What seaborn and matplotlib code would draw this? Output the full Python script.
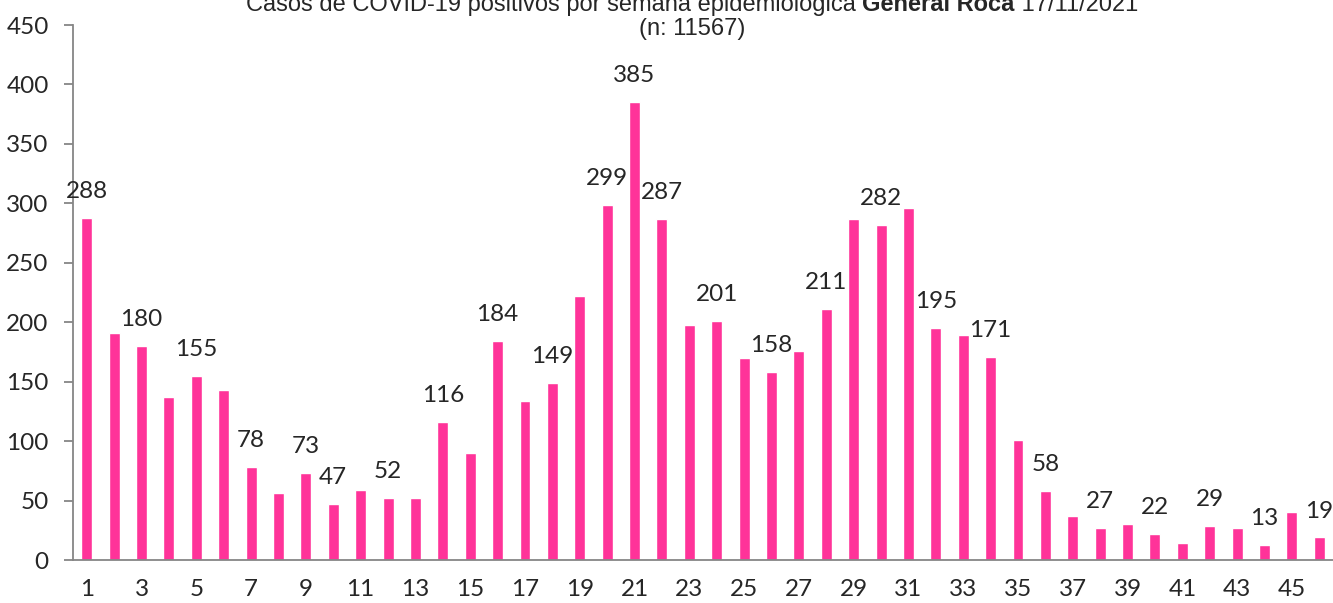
import numpy as np
import pandas as pd
import matplotlib
matplotlib.use("Agg")
import matplotlib.pyplot as plt
import seaborn as sns

# =====================================================================
# DATA - casos por semana epidemiologica
# =====================================================================
weeks = list(range(1, 47))
cases = [288, 191, 180, 137, 155, 143, 78, 56, 73, 47,
         59, 52, 52, 116, 90, 184, 134, 149, 222, 299,
         385, 287, 198, 201, 170, 158, 176, 211, 287, 282,
         296, 195, 189, 171, 101, 58, 37, 27, 30, 22,
         14, 29, 27, 13, 40, 19]
labeled_weeks = [1, 3, 5, 7, 9, 10, 12, 14, 16, 18, 20, 21, 22, 24, 26,
                 28, 30, 32, 34, 36, 38, 40, 42, 44, 46]
x_tick_weeks = list(range(1, 47, 2))
y_ticks = list(range(0, 451, 50))

BAR_COLOR = "#FF3399"
AXIS_COLOR = "#868686"
LABEL_FS = 17.5

# =====================================================================
# STYLE
# =====================================================================
sns.set_style("white")
plt.rcParams["font.family"] = ["Lato", "DejaVu Sans"]

fig = plt.figure(figsize=(13.33, 6.03), dpi=100)
ax = fig.add_axes([0.0548, 0.0713, 0.9452, 0.8872])

df = pd.DataFrame({"semana": [str(w) for w in weeks], "casos": cases})
sns.barplot(data=df, x="semana", y="casos", color=BAR_COLOR,
            saturation=1, width=0.4, ax=ax)

ax.set_xlim(-0.5, len(weeks) - 0.5)
ax.set_ylim(0, 450)
ax.set_xlabel("")
ax.set_ylabel("")

# axis ticks (Excel style: marks between categories)
ax.set_yticks(y_ticks)
ax.set_yticklabels([str(v) for v in y_ticks])
ax.set_xticks([weeks.index(w) for w in x_tick_weeks])
ax.set_xticklabels([str(w) for w in x_tick_weeks])
ax.set_xticks(np.arange(-0.5, len(weeks)), minor=True)
ax.tick_params(axis="x", which="major", length=0, pad=14, labelsize=LABEL_FS)
ax.tick_params(axis="x", which="minor", length=6, width=1.3,
               color=AXIS_COLOR, direction="out")
ax.tick_params(axis="y", length=6.5, width=1.3, color=AXIS_COLOR,
               pad=11, labelsize=LABEL_FS, direction="out", left=True)

for side in ["top", "right"]:
    ax.spines[side].set_visible(False)
for side in ["left", "bottom"]:
    ax.spines[side].set_color(AXIS_COLOR)
    ax.spines[side].set_linewidth(1.3)

# data labels
for w in labeled_weeks:
    i = weeks.index(w)
    v = cases[i]
    ax.annotate(str(v), (i, v), xytext=(0, 19), textcoords="offset points",
                ha="center", va="center", fontsize=LABEL_FS)

# =====================================================================
# TITLE (mixed bold)
# =====================================================================
title_parts = [
    ("Casos de COVID-19 positivos por semana epidemiológica ", "normal"),
    ("General Roca", "bold"),
    (" 17/11/2021", "normal"),
]
renderer = fig.canvas.get_renderer()
TITLE_FS = 17
center_x = 692 / 1333
line1_y = 1 - 11 / 603
texts = []
for s, weight in title_parts:
    t = fig.text(0, line1_y, s, fontsize=TITLE_FS, fontweight=weight,
                 family="Liberation Sans", va="baseline", ha="left")
    texts.append(t)
widths = [t.get_window_extent(renderer).width / fig.bbox.width for t in texts]
x = center_x - sum(widths) / 2
for t, wd in zip(texts, widths):
    t.set_x(x)
    x += wd

fig.text(center_x, 1 - 35 / 603, "(n: 11567)", fontsize=TITLE_FS,
         family="Liberation Sans", va="baseline", ha="center")

fig.savefig("out.png", dpi=100)
